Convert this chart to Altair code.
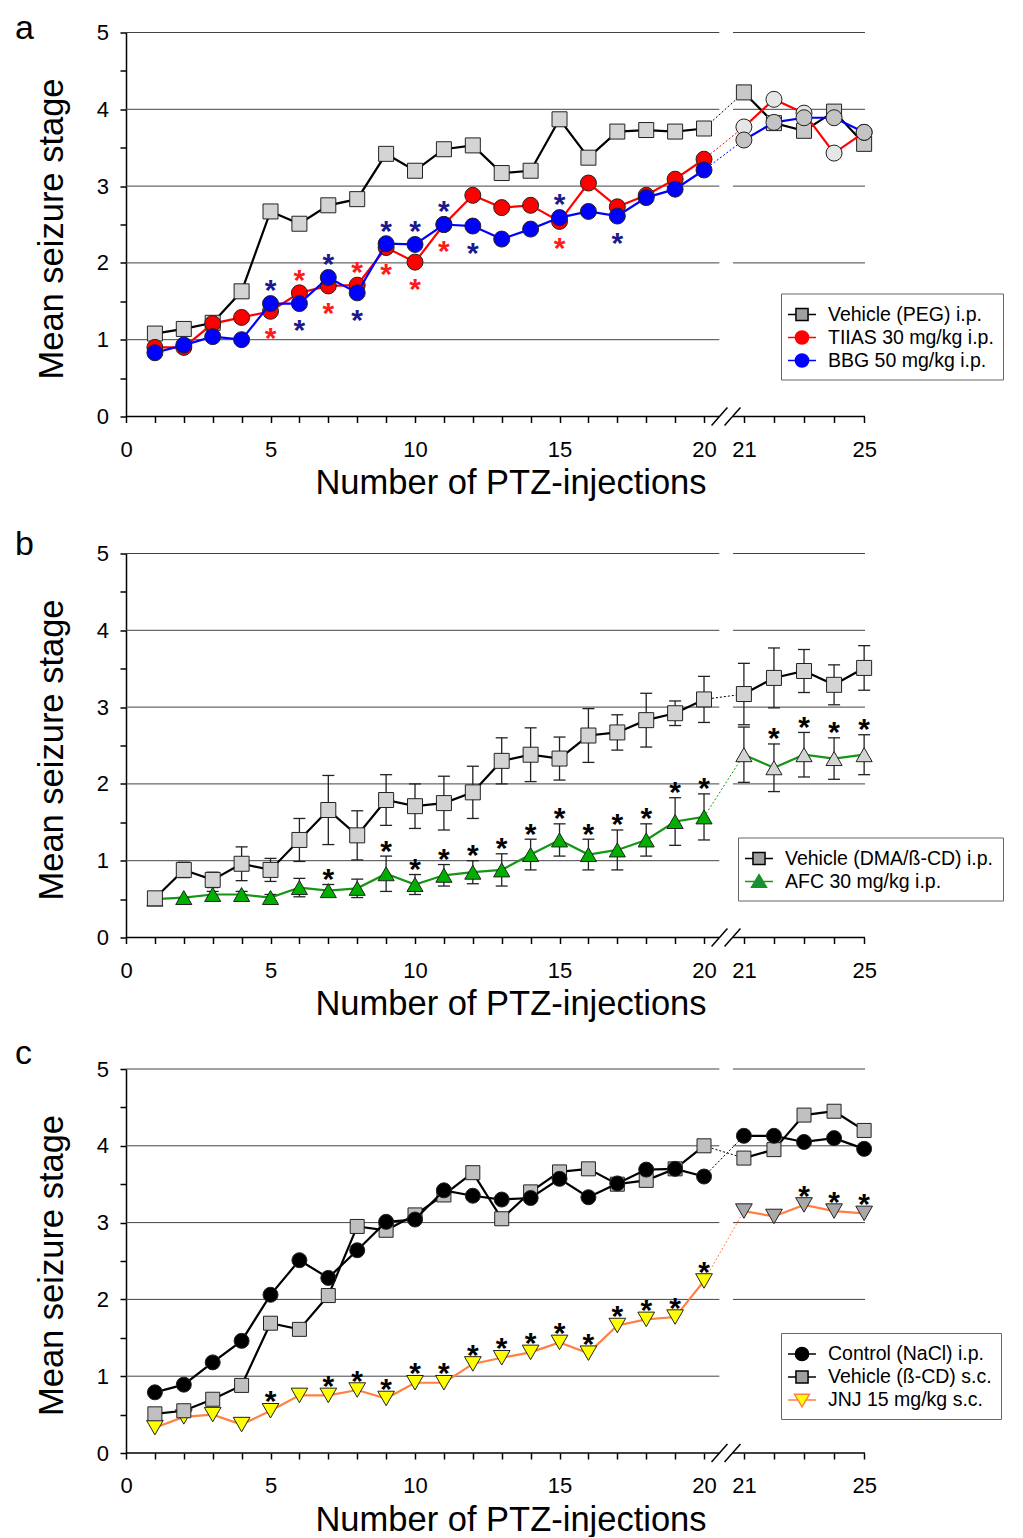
import altair as alt
import pandas as pd

FONT = "Liberation Sans"

# ---------------- data ----------------
INJ = list(range(1, 26))
X_LABELS = [0, 5, 10, 15, 20, 21, 25]

# panel a
A_NAMES = ["Vehicle (PEG) i.p.", "TIIAS 30 mg/kg i.p.", "BBG 50 mg/kg i.p."]
A_VEHICLE = [1.08, 1.14, 1.22, 1.63, 2.67, 2.51, 2.75, 2.83, 3.42, 3.20, 3.48, 3.53, 3.17,
             3.20, 3.87, 3.37, 3.71, 3.73, 3.71, 3.75, 4.22, 3.82, 3.72, 3.97, 3.55]
A_TIIAS = [0.90, 0.90, 1.21, 1.29, 1.37, 1.61, 1.70, 1.71, 2.20, 2.01, 2.50, 2.88, 2.72,
           2.75, 2.54, 3.04, 2.73, 2.88, 3.09, 3.35, 3.77, 4.13, 3.95, 3.43, 3.70]
A_BBG = [0.83, 0.93, 1.04, 1.00, 1.47, 1.47, 1.81, 1.61, 2.25, 2.24, 2.50, 2.48, 2.31,
         2.44, 2.59, 2.67, 2.61, 2.85, 2.96, 3.21, 3.60, 3.83, 3.89, 3.89, 3.70]
A_TIIAS_STAR_X = [5, 6, 7, 8, 9, 10, 11, 15]
A_TIIAS_STAR_SIDE = [-1, 1, -1, 1, -1, -1, -1, -1]
A_BBG_STAR_X = [5, 6, 7, 8, 9, 10, 11, 12, 15, 17]
A_BBG_STAR_SIDE = [1, -1, 1, -1, 1, 1, 1, -1, 1, -1]

# panel b
B_NAMES = ["Vehicle (DMA/ß-CD) i.p.", "AFC 30 mg/kg i.p."]
B_VEHICLE = [0.51, 0.88, 0.75, 0.96, 0.88, 1.27, 1.66, 1.33, 1.79, 1.71, 1.75, 1.89, 2.30,
             2.38, 2.33, 2.63, 2.67, 2.83, 2.92, 3.10, 3.17, 3.38, 3.47, 3.29, 3.51]
B_VEHICLE_SEM = [0.0, 0.10, 0.10, 0.22, 0.15, 0.28, 0.45, 0.32, 0.33, 0.29, 0.35, 0.34, 0.30,
                 0.35, 0.28, 0.35, 0.23, 0.35, 0.16, 0.30, 0.40, 0.39, 0.28, 0.26, 0.29]
B_AFC = [0.50, 0.52, 0.56, 0.56, 0.52, 0.65, 0.61, 0.64, 0.83, 0.69, 0.81, 0.85, 0.88,
         1.08, 1.27, 1.08, 1.14, 1.27, 1.51, 1.57, 2.38, 2.21, 2.38, 2.33, 2.38]
B_AFC_SEM = [0.0, 0.0, 0.04, 0.04, 0.04, 0.12, 0.08, 0.12, 0.23, 0.13, 0.14, 0.15, 0.21,
             0.20, 0.21, 0.20, 0.26, 0.21, 0.31, 0.30, 0.36, 0.31, 0.29, 0.27, 0.26]
B_AFC_STAR_X = [7, 9, 10, 11, 12, 13, 14, 15, 16, 17, 18, 19, 20, 22, 23, 24, 25]

# panel c
C_NAMES = ["Control (NaCl) i.p.", "Vehicle (ß-CD) s.c.", "JNJ 15 mg/kg s.c."]
C_CONTROL = [0.79, 0.89, 1.18, 1.46, 2.06, 2.51, 2.28, 2.64, 3.01, 3.04, 3.42, 3.35, 3.30,
             3.32, 3.57, 3.33, 3.51, 3.69, 3.70, 3.60, 4.13, 4.13, 4.05, 4.10, 3.96]
C_VEHICLE = [0.51, 0.55, 0.70, 0.88, 1.69, 1.61, 2.05, 2.95, 2.90, 3.10, 3.36, 3.65, 3.05,
             3.40, 3.66, 3.70, 3.50, 3.55, 3.70, 4.00, 3.84, 3.95, 4.40, 4.45, 4.20]
C_JNJ = [0.33, 0.47, 0.50, 0.37, 0.55, 0.75, 0.75, 0.82, 0.71, 0.915, 0.915, 1.16, 1.24,
         1.31, 1.44, 1.30, 1.66, 1.74, 1.77, 2.24, 3.15, 3.08, 3.23, 3.15, 3.12]
C_JNJ_STAR_X = [5, 7, 8, 9, 10, 11, 12, 13, 14, 15, 16, 17, 18, 19, 20, 23, 24, 25]

# ---------------- layout constants ----------------
POST_START = 21.38
POST_STEP = 1.04
X_MAX = 25.57
BREAK_L = 20.53
BREAK_R = 21.0
W, H = 739, 384


def xpos(i):
    return float(i) if i <= 20 else POST_START + (i - 21) * POST_STEP


XSCALE = alt.Scale(domain=[0, X_MAX], nice=False, zero=False)
YSCALE = alt.Scale(domain=[0, 5], nice=False)

x_tick_pos = [xpos(i) for i in range(0, 26)]
label_expr = " : ".join(
    [f"abs(datum.value - {xpos(n):.4f}) < 0.01 ? '{n}'" for n in X_LABELS]) + " : ''"

XAXIS = alt.Axis(values=x_tick_pos, labelExpr=label_expr, domain=False, grid=False,
                 ticks=True, tickSize=6, tickWidth=1.5, tickColor="black",
                 labelFont=FONT, labelFontSize=22, labelColor="black", labelAngle=0,
                 labelPadding=33.5, labelBaseline="alphabetic", labelFlush=False,
                 labelOverlap=False, title="Number of PTZ-injections", titleFont=FONT,
                 titleFontSize=34.5, titleFontWeight="normal", titleColor="black",
                 titleX=384.5, titleY=77, titleBaseline="alphabetic", titleAlign="center")

YAXIS = alt.Axis(values=[k / 2 for k in range(0, 11)],
                 labelExpr="datum.value % 1 == 0 ? format(datum.value, 'd') : ''",
                 domain=True, domainColor="black", domainWidth=1.5, grid=False,
                 ticks=True, tickSize=6, tickWidth=1.5, tickColor="black",
                 labelFont=FONT, labelFontSize=22, labelColor="black", labelPadding=11.5,
                 labelFlush=False, labelOverlap=False,
                 title="Mean seizure stage", titleFont=FONT, titleFontSize=34.5,
                 titleFontWeight="normal", titleColor="black", titleAngle=270,
                 titleX=-64, titleY=196, titleBaseline="alphabetic", titleAlign="center")

STAR_FS = 30
STAR_DY = 0.56 * STAR_FS

LINE_P = "M-1.27,0H-0.55M0.55,0H1.27"
LINE_T = "M-1.27,0H-0.42M0.42,0H1.27"
SQ_P = LINE_P + "M-0.55,-0.55H0.55V0.55H-0.55Z"
CI_P = LINE_P + "M0.6,0A0.6,0.6,0,1,1,-0.6,0A0.6,0.6,0,1,1,0.6,0Z"
TU_P = LINE_T + "M0,-0.62L0.68,0.52L-0.68,0.52Z"
TD_P = LINE_T + "M0,0.62L0.68,-0.52L-0.68,-0.52Z"


def X(field="pos"):
    return alt.X(f"{field}:Q", scale=XSCALE, axis=XAXIS)


def Y(field="v"):
    return alt.Y(f"{field}:Q", scale=YSCALE, axis=YAXIS)


def frame_layers():
    segs = [(0.0, BREAK_L), (BREAK_R, X_MAX)]
    rows = []
    for lv in [1, 2, 3, 4, 5]:
        rows.append({"level": lv, "x0": segs[0][0], "x1": segs[0][1]})
        if lv >= 2:
            rows.append({"level": lv, "x0": segs[1][0], "x1": segs[1][1]})
    grid = alt.Chart(pd.DataFrame(rows)).mark_rule(color="#444", strokeWidth=1).encode(
        x=X("x0"), x2="x1:Q", y=Y("level"))
    ax = alt.Chart(pd.DataFrame({"x0": [s[0] for s in segs], "x1": [s[1] for s in segs],
                                 "y0": [0.0, 0.0]})
                   ).mark_rule(color="black", strokeWidth=1.5).encode(
        x=X("x0"), x2="x1:Q", y=Y("y0"))
    slashes = []
    for a, b in [(20.26, 20.81), (20.71, 21.26)]:
        slashes.append(alt.Chart(pd.DataFrame({"sx": [a], "sx2": [b]})).mark_rule(
            color="black", strokeWidth=1.5).encode(
            x=X("sx"), x2="sx2:Q",
            y=alt.value(H + 9), y2=alt.value(H - 9)))
    return [grid, ax] + slashes


def series_layers(values, shape, size, line_color, fill_pre, fill_post,
                  sem=None, mstroke="#222"):
    df = pd.DataFrame({"inj": INJ, "v": values})
    df["pos"] = [xpos(i) for i in INJ]
    layers = []
    if sem is not None:
        df["lo"] = df["v"] - pd.Series(sem)
        df["hi"] = df["v"] + pd.Series(sem)
        layers.append(alt.Chart(df).mark_rule(color="#222", strokeWidth=1.3).encode(
            x=X(), y=Y("lo"), y2="hi:Q"))
        for f in ["lo", "hi"]:
            layers.append(alt.Chart(df).mark_tick(
                color="#222", orient="horizontal", size=12, thickness=1.3, opacity=1).encode(
                x=X(), y=Y(f)))
    pre = df[df.inj <= 20]
    post = df[df.inj >= 21]
    link = df[df.inj.isin([20, 21])]
    layers.append(alt.Chart(link).mark_line(color=line_color, strokeWidth=1,
                                            strokeDash=[2, 2]).encode(x=X(), y=Y()))
    for d in [pre, post]:
        layers.append(alt.Chart(d).mark_line(color=line_color, strokeWidth=2.2).encode(
            x=X(), y=Y()))
    for d, f in [(pre, fill_pre), (post, fill_post)]:
        layers.append(alt.Chart(d).mark_point(
            shape=shape, filled=True, fill=f, stroke=mstroke, strokeWidth=1,
            size=size, opacity=1).encode(x=X(), y=Y()))
    return layers


def star_layer(values, xs, sides, gap, color, sem=None):
    rows = []
    for i, s in zip(xs, sides):
        off = gap + (sem[i - 1] if sem is not None else 0.0)
        rows.append({"pos": xpos(i), "ys": values[i - 1] + s * off})
    return alt.Chart(pd.DataFrame(rows)).mark_text(
        text="*", font=FONT, fontSize=STAR_FS, fontWeight="bold", color=color,
        baseline="alphabetic", dy=STAR_DY).encode(x=X(), y=Y("ys"))


def letter_layer(letter, dy):
    return alt.Chart(pd.DataFrame({"t": [letter]})).mark_text(
        font=FONT, fontSize=34, align="left", baseline="alphabetic", color="black").encode(
        text="t:N", x=alt.value(-111), y=alt.value(dy))


def legend_layer(names, fills, strokes, paths, lx, ly):
    leg = alt.Legend(orient="none", legendX=lx, legendY=ly, title=None,
                     labelFont=FONT, labelFontSize=19.5, labelColor="black",
                     symbolSize=484, symbolStrokeWidth=1.5, padding=9,
                     strokeColor="#666", fillColor="white", rowPadding=1,
                     labelOffset=14, labelLimit=400, direction="vertical",
                     symbolOpacity=1)
    df = pd.DataFrame({"series": names})
    return alt.Chart(df).mark_point(filled=True, opacity=1, strokeWidth=1.5,
                                    clip=True).encode(
        x=alt.value(-400), y=alt.value(-400),
        fill=alt.Fill("series:N", scale=alt.Scale(domain=names, range=fills), legend=leg),
        stroke=alt.Stroke("series:N", scale=alt.Scale(domain=names, range=strokes), legend=leg),
        shape=alt.Shape("series:N", scale=alt.Scale(domain=names, range=paths), legend=leg),
    )


# ---------------- panel a ----------------
la = frame_layers()
la += series_layers(A_VEHICLE, "square", 225, "#000000", "#d4d4d4", "#c8c8c8")
la += series_layers(A_TIIAS, "circle", 256, "#ff0000", "#ff0000", "#e6e6e6")
la += series_layers(A_BBG, "circle", 256, "#0000ff", "#0000ff", "#c4c4c4")
la.append(star_layer(A_TIIAS, A_TIIAS_STAR_X, A_TIIAS_STAR_SIDE, 0.26, "#ff1a1a"))
la.append(star_layer(A_BBG, A_BBG_STAR_X, A_BBG_STAR_SIDE, 0.26, "#1a1a8c"))
la.append(letter_layer("a", 6))
la.append(legend_layer(A_NAMES, ["#a0a0a0", "#ff0000", "#0000ff"],
                       ["#000000", "#ff0000", "#0000ff"], [SQ_P, CI_P, CI_P], 655, 261))
pa = alt.layer(*la).properties(width=W, height=H)

# ---------------- panel b ----------------
lb = frame_layers()
lb += series_layers(B_AFC, "triangle-up", 260, "#149614", "#00b000", "#d4d4d4", sem=B_AFC_SEM)
lb += series_layers(B_VEHICLE, "square", 225, "#000000", "#d4d4d4", "#d4d4d4", sem=B_VEHICLE_SEM)
lb.append(star_layer(B_AFC, B_AFC_STAR_X, [1] * len(B_AFC_STAR_X), 0.16, "black", sem=B_AFC_SEM))
lb.append(letter_layer("b", 1))
lb.append(legend_layer(B_NAMES, ["#a0a0a0", "#1e8c3c"], ["#000000", "#149614"],
                       [SQ_P, TU_P], 612, 284))
pb = alt.layer(*lb).properties(width=W, height=H)

# ---------------- panel c ----------------
lc = frame_layers()
lc += series_layers(C_JNJ, "triangle-down", 280, "#ff8040", "#ffff00", "#a8a8a8")
lc += series_layers(C_VEHICLE, "square", 196, "#000000", "#c0c0c0", "#c0c0c0")
lc += series_layers(C_CONTROL, "circle", 225, "#000000", "#000000", "#000000")
lc.append(star_layer(C_JNJ, C_JNJ_STAR_X, [1] * len(C_JNJ_STAR_X), 0.21, "black"))
lc.append(letter_layer("c", -5))
lc.append(legend_layer(C_NAMES, ["#000000", "#a0a0a0", "#ffff00"],
                       ["#000000", "#000000", "#ff8040"], [CI_P, SQ_P, TD_P], 655, 264))
pc = alt.layer(*lc).properties(width=W, height=H)

RES_S = dict(fill="independent", stroke="independent", shape="independent",
             x="independent", y="independent")
RES_L = dict(fill="independent", stroke="independent", shape="independent")

bottom = alt.vconcat(pb, pc, spacing=15.5).resolve_scale(**RES_S).resolve_legend(**RES_L)
chart = alt.vconcat(pa, bottom, spacing=27).resolve_scale(**RES_S).resolve_legend(
    **RES_L).properties(
    padding={"left": 7, "top": 3.5, "right": 0, "bottom": 0}
).configure_view(stroke=None)

chart.save("out.html", embed_options={"renderer": "svg", "actions": False})
